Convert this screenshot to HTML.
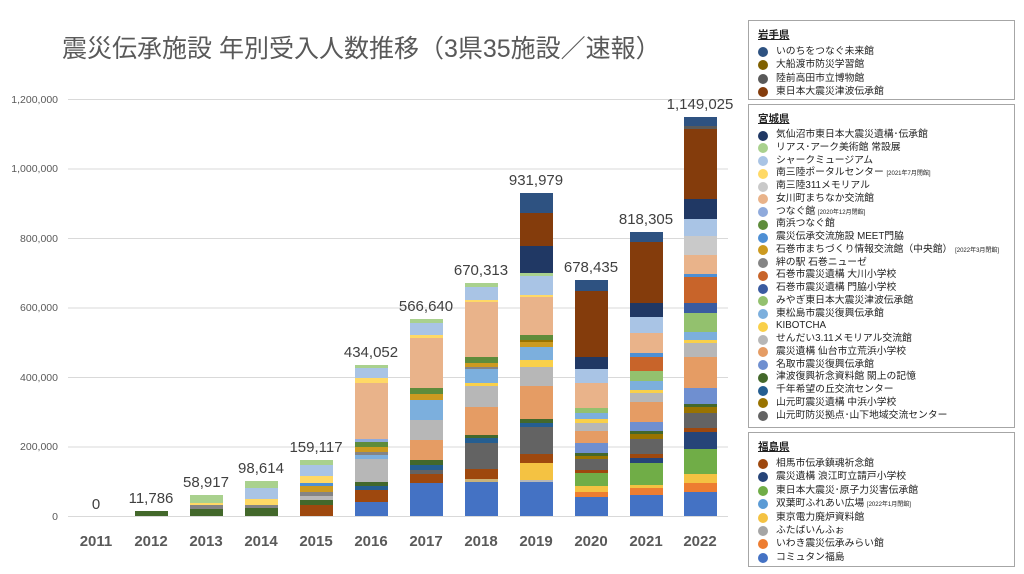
<!DOCTYPE html>
<html><head><meta charset="utf-8"><style>
body{margin:0;background:#fff;width:1024px;height:574px;overflow:hidden;font-family:"Liberation Sans","Noto Sans CJK JP",sans-serif}
.lg{position:absolute;left:748px;width:267px;border:1.5px solid #a6a6a6;background:#fff;box-sizing:border-box}
.lg .h{font-size:10.5px;font-weight:bold;text-decoration:underline;margin:6px 0 3px 9px;color:#222}
.lg .i{font-size:9.8px;height:13.4px;line-height:13.4px;color:#222;white-space:nowrap;position:relative;padding-left:27px}
.lg.m .i{height:12.75px;line-height:12.75px}
.lg .i b{position:absolute;left:9px;top:2px;width:10px;height:10px;border-radius:50%}
.lg.m .i b{top:1.5px}
.lg small{font-size:6px}
</style></head><body>
<svg id="c" width="1024" height="574" style="position:absolute;left:0;top:0" font-family="Liberation Sans, Noto Sans CJK JP, sans-serif">
<text x="62" y="57" font-size="25" fill="#595959">震災伝承施設 年別受入人数推移（3県35施設／速報）</text>
<g stroke="#d9d9d9" stroke-width="1">
<line x1="68" x2="728" y1="99.5" y2="99.5"/><line x1="68" x2="728" y1="169" y2="169"/><line x1="68" x2="728" y1="238.5" y2="238.5"/><line x1="68" x2="728" y1="308" y2="308"/><line x1="68" x2="728" y1="377.5" y2="377.5"/><line x1="68" x2="728" y1="447" y2="447"/><line x1="68" x2="728" y1="516.5" y2="516.5"/>
</g>
<g font-size="10.5" fill="#595959" text-anchor="end">
<text x="58" y="103">1,200,000</text><text x="58" y="172">1,000,000</text><text x="58" y="242">800,000</text><text x="58" y="311">600,000</text><text x="58" y="381">400,000</text><text x="58" y="450">200,000</text><text x="58" y="520">0</text>
</g>
<g id="bars"></g>
<g font-size="15" font-weight="bold" fill="#595959" text-anchor="middle" id="xl"></g>
<g font-size="15" fill="#404040" text-anchor="middle" id="vl"></g>
</svg>
<div class="lg" style="top:20px;height:80px"><div class="h">岩手県</div>
<div class="i"><b style="background:#2e5281"></b>いのちをつなぐ未来館</div>
<div class="i"><b style="background:#7f6000"></b>大船渡市防災学習館</div>
<div class="i"><b style="background:#595959"></b>陸前高田市立博物館</div>
<div class="i"><b style="background:#843c0c"></b>東日本大震災津波伝承館</div></div>
<div class="lg m" style="top:104px;height:324px"><div class="h">宮城県</div>
<div class="i"><b style="background:#203864"></b>気仙沼市東日本大震災遺構･伝承館</div>
<div class="i"><b style="background:#a9d18e"></b>リアス･アーク美術館 常設展</div>
<div class="i"><b style="background:#a9c4e5"></b>シャークミュージアム</div>
<div class="i"><b style="background:#ffd966"></b>南三陸ポータルセンター <small>[2021年7月閉館]</small></div>
<div class="i"><b style="background:#c9c9c9"></b>南三陸311メモリアル</div>
<div class="i"><b style="background:#e9b38a"></b>女川町まちなか交流館</div>
<div class="i"><b style="background:#8faadc"></b>つなぐ館 <small>[2020年12月閉館]</small></div>
<div class="i"><b style="background:#5e8c3b"></b>南浜つなぐ館</div>
<div class="i"><b style="background:#4e8fd4"></b>震災伝承交流施設 MEET門脇</div>
<div class="i"><b style="background:#cc9a20"></b>石巻市まちづくり情報交流館（中央館） <small>[2022年3月閉館]</small></div>
<div class="i"><b style="background:#848484"></b>絆の駅 石巻ニューゼ</div>
<div class="i"><b style="background:#c8642a"></b>石巻市震災遺構 大川小学校</div>
<div class="i"><b style="background:#3a5ba0"></b>石巻市震災遺構 門脇小学校</div>
<div class="i"><b style="background:#93c16e"></b>みやぎ東日本大震災津波伝承館</div>
<div class="i"><b style="background:#7cafdd"></b>東松島市震災復興伝承館</div>
<div class="i"><b style="background:#f9d04a"></b>KIBOTCHA</div>
<div class="i"><b style="background:#b7b7b7"></b>せんだい3.11メモリアル交流館</div>
<div class="i"><b style="background:#e59c64"></b>震災遺構 仙台市立荒浜小学校</div>
<div class="i"><b style="background:#6f8fd0"></b>名取市震災復興伝承館</div>
<div class="i"><b style="background:#43682b"></b>津波復興祈念資料館 閖上の記憶</div>
<div class="i"><b style="background:#255e91"></b>千年希望の丘交流センター</div>
<div class="i"><b style="background:#997300"></b>山元町震災遺構 中浜小学校</div>
<div class="i"><b style="background:#636363"></b>山元町防災拠点･山下地域交流センター</div></div>
<div class="lg" style="top:432px;height:135px"><div class="h">福島県</div>
<div class="i"><b style="background:#9e480e"></b>相馬市伝承鎮魂祈念館</div>
<div class="i"><b style="background:#264478"></b>震災遺構 浪江町立請戸小学校</div>
<div class="i"><b style="background:#70ad47"></b>東日本大震災･原子力災害伝承館</div>
<div class="i"><b style="background:#5b9bd5"></b>双葉町ふれあい広場 <small>[2022年1月閉館]</small></div>
<div class="i"><b style="background:#f4c242"></b>東京電力廃炉資料館</div>
<div class="i"><b style="background:#a5a5a5"></b>ふたばいんふぉ</div>
<div class="i"><b style="background:#ed7d31"></b>いわき震災伝承みらい館</div>
<div class="i"><b style="background:#4472c4"></b>コミュタン福島</div></div>
<script>
var C={bl:"#4472c4",or:"#ed7d31",ye:"#f4c242",gr:"#70ad47",nv:"#264478",si:"#9e480e",dg:"#636363",ol:"#997300",dk:"#43682b",db:"#255e91",cf:"#6f8fd0",o2:"#e59c64",g1:"#b7b7b7",y2:"#f9d04a",lb2:"#7cafdd",g2:"#93c16e",b3:"#3a5ba0",ob:"#c8642a",g3:"#848484",go:"#cc9a20",mb:"#4e8fd4",gn:"#5e8c3b",la:"#8faadc",pe:"#e9b38a",lg:"#c9c9c9",y3:"#ffd966",lb:"#a9c4e5",lgr:"#a9d18e",na:"#203864",br:"#843c0c",dg2:"#595959",iw:"#2e5281",ta:"#c9b27a"};
var B=[
[96,0,[],""],
[151,1,[[511,"dk"]],"11,786"],
[206,2,[[509,"dk"],[505,"g3"],[503,"y3"],[495,"lgr"]],"58,917"],
[261,3,[[508,"dk"],[505,"g3"],[499,"y3"],[488,"lb"],[481,"lgr"]],"98,614"],
[316,4,[[505,"si"],[500,"dk"],[496,"g1"],[492,"g3"],[486,"go"],[483,"mb"],[476,"y3"],[465,"lb"],[460,"lgr"]],"159,117"],
[371,5,[[502,"bl"],[490,"si"],[486,"db"],[482,"dk"],[459,"g1"],[455,"lb2"],[452,"g3"],[447,"go"],[442,"gn"],[439,"la"],[383,"pe"],[378,"y3"],[368,"lb"],[365,"lgr"]],"434,052"],
[426,6,[[483,"bl"],[474,"si"],[470,"dg"],[465,"db"],[460,"dk"],[440,"o2"],[420,"g1"],[400,"lb2"],[394,"go"],[388,"gn"],[338,"pe"],[335,"y3"],[323,"lb"],[319,"lgr"]],"566,640"],
[481,7,[[482,"bl"],[479,"ta"],[469,"si"],[443,"dg"],[438,"db"],[435,"dk"],[407,"o2"],[386,"g1"],[383,"y2"],[369,"lb2"],[367,"g3"],[363,"go"],[357,"gn"],[302,"pe"],[300,"y3"],[287,"lb"],[283,"lgr"]],"670,313"],
[536,8,[[482,"bl"],[480,"g1"],[463,"ye"],[454,"si"],[427,"dg"],[423,"db"],[419,"dk"],[386,"o2"],[367,"g1"],[360,"y2"],[347,"lb2"],[342,"go"],[340,"ol"],[335,"gn"],[297,"pe"],[295,"y3"],[276,"lb"],[273,"lgr"],[246,"na"],[213,"br"],[193,"iw"]],"931,979"],
[591,9,[[497,"bl"],[492,"or"],[486,"ye"],[473,"gr"],[470,"si"],[459,"dg"],[456,"ol"],[453,"dk"],[443,"cf"],[431,"o2"],[423,"g1"],[419,"y2"],[413,"lb2"],[408,"g2"],[383,"pe"],[369,"lb"],[357,"na"],[291,"br"],[280,"iw"]],"678,435"],
[646,10,[[495,"bl"],[488,"or"],[485,"ye"],[463,"gr"],[458,"nv"],[454,"si"],[439,"dg"],[434,"ol"],[431,"dk"],[422,"cf"],[402,"o2"],[393,"g1"],[390,"y2"],[381,"lb2"],[371,"g2"],[357,"ob"],[353,"mb"],[333,"pe"],[317,"lb"],[303,"na"],[242,"br"],[232,"iw"]],"818,305"],
[700,11,[[492,"bl"],[483,"or"],[474,"ye"],[449,"gr"],[432,"nv"],[428,"si"],[413,"dg"],[407,"ol"],[404,"dk"],[388,"cf"],[357,"o2"],[343,"g1"],[340,"y2"],[332,"lb2"],[313,"g2"],[303,"b3"],[277,"ob"],[274,"mb"],[255,"pe"],[236,"lg"],[219,"lb"],[199,"na"],[129,"br"],[126,"dg2"],[117,"iw"]],"1,149,025"]
];
var ns="http://www.w3.org/2000/svg",g=document.getElementById("bars"),xl=document.getElementById("xl"),vl=document.getElementById("vl");
function el(t,a,p,tx){var e=document.createElementNS(ns,t);for(var k in a)e.setAttribute(k,a[k]);if(tx)e.textContent=tx;p.appendChild(e);return e;}
B.forEach(function(b){var x=b[0]-16,y0=516,top=516;
b[2].forEach(function(s){el("rect",{x:x,y:s[0],width:33,height:y0-s[0],fill:C[s[1]]},g);y0=s[0];top=s[0];});
el("text",{x:b[0],y:546},xl,String(2011+b[1]));
el("text",{x:b[0],y:(b[3]?top-8:509)},vl,b[3]||"0");});
</script>
</body></html>
